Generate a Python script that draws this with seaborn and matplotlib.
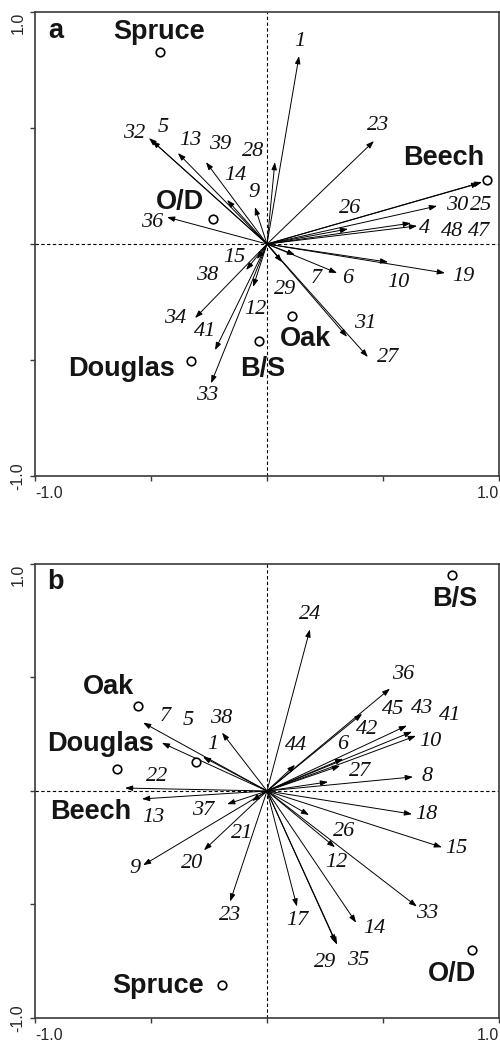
import matplotlib
matplotlib.use("Agg")
import matplotlib.pyplot as plt
import seaborn as sns
import pandas as pd

sns.set_style("ticks")
plt.rcParams["font.family"] = ["Liberation Sans", "DejaVu Sans"]

# ---------------- panel a: variable vectors ----------------
a_vars = ["1", "23", "25", "47", "30", "4", "48", "26", "19", "10", "6", "7",
          "29", "31", "27", "12", "33", "41", "34", "38", "15", "36", "32",
          "5", "13", "39", "28", "14", "9"]
a_x = [0.138, 0.461, 0.927, 0.915, 0.733, 0.647, 0.620, 0.349, 0.767, 0.522,
       0.302, 0.121, 0.065, 0.345, 0.435, -0.060, -0.241, -0.224, -0.310,
       -0.090, -0.043, -0.431, -0.509, -0.495, -0.384, -0.263, 0.034,
       -0.172, -0.052]
a_y = [0.810, 0.444, 0.267, 0.262, 0.164, 0.078, 0.090, 0.065, -0.125,
       -0.078, -0.125, -0.047, -0.078, -0.400, -0.487, -0.185, -0.600,
       -0.457, -0.319, -0.112, -0.065, 0.116, 0.457, 0.445, 0.392, 0.353,
       0.353, 0.190, 0.159]
# label anchor points for the vector numbers
a_lab_x = [0.142, 0.478, 0.922, 0.914, 0.819, 0.681, 0.797, 0.358, 0.845,
           0.565, 0.349, 0.211, 0.078, 0.422, 0.522, -0.052, -0.259, -0.267,
           -0.397, -0.259, -0.142, -0.496, -0.573, -0.448, -0.332, -0.203,
           -0.060, -0.138, -0.056]
a_lab_y = [0.871, 0.513, 0.164, 0.056, 0.164, 0.065, 0.056, 0.155, -0.142,
           -0.164, -0.147, -0.147, -0.198, -0.341, -0.491, -0.284, -0.651,
           -0.379, -0.319, -0.134, -0.060, 0.091, 0.478, 0.504, 0.448, 0.427,
           0.397, 0.297, 0.220]

a_species = ["Spruce", "O/D", "Beech", "Oak", "B/S", "Douglas"]
a_sp_x = [-0.461, -0.233, 0.948, 0.108, -0.034, -0.328]
a_sp_y = [0.828, 0.108, 0.276, -0.310, -0.418, -0.504]
a_sp_lab_x = [-0.466, -0.375, 0.763, 0.164, -0.017, -0.625]
a_sp_lab_y = [0.915, 0.180, 0.371, -0.410, -0.540, -0.540]

# ---------------- panel b: variable vectors ----------------
b_vars = ["24", "36", "45", "43", "41", "10", "42", "6", "44", "27", "8",
          "18", "15", "26", "12", "33", "14", "35", "29", "17", "23", "21",
          "20", "37", "9", "13", "22", "7", "5", "1", "38"]
b_x = [0.185, 0.530, 0.410, 0.603, 0.625, 0.642, 0.328, 0.315, 0.121, 0.263,
       0.629, 0.625, 0.754, 0.181, 0.293, 0.646, 0.384, 0.302, 0.296, 0.129,
       -0.159, -0.065, -0.272, -0.172, -0.534, -0.539, -0.612, -0.534,
       -0.453, -0.276, -0.194]
b_y = [0.712, 0.451, 0.340, 0.288, 0.261, 0.243, 0.142, 0.111, 0.115, 0.040,
       0.062, -0.102, -0.248, -0.106, -0.248, -0.509, -0.580, -0.677, -0.668,
       -0.509, -0.487, -0.044, -0.261, -0.058, -0.327, -0.035, 0.013, 0.301,
       0.212, 0.150, 0.257]
b_lab_x = [0.185, 0.586, 0.543, 0.668, 0.789, 0.703, 0.431, 0.328, 0.125,
           0.401, 0.690, 0.685, 0.815, 0.332, 0.297, 0.690, 0.461, 0.392,
           0.250, 0.129, -0.159, -0.108, -0.323, -0.276, -0.569, -0.491,
           -0.474, -0.440, -0.341, -0.233, -0.198]
b_lab_y = [0.779, 0.513, 0.358, 0.363, 0.332, 0.217, 0.270, 0.204, 0.199,
           0.084, 0.066, -0.102, -0.252, -0.177, -0.314, -0.540, -0.606,
           -0.748, -0.757, -0.571, -0.549, -0.186, -0.319, -0.084, -0.341,
           -0.119, 0.062, 0.327, 0.310, 0.204, 0.319]

b_species = ["B/S", "Oak", "Douglas", "Beech", "Spruce", "O/D"]
b_sp_x = [0.797, -0.556, -0.306, -0.647, -0.194, 0.884]
b_sp_y = [0.951, 0.376, 0.128, 0.097, -0.854, -0.699]
b_sp_lab_x = [0.810, -0.685, -0.716, -0.759, -0.470, 0.797]
b_sp_lab_y = [0.845, 0.460, 0.208, -0.093, -0.858, -0.805]

tick_vals = [-1.0, -0.5, 0.0, 0.5, 1.0]
tick_text = ["-1.0", "", "", "", "1.0"]

fig = plt.figure(figsize=(5.0, 10.46), dpi=100)
ax_a = fig.add_axes([0.070, 0.5449, 0.928, 0.4436])
ax_b = fig.add_axes([0.070, 0.0268, 0.928, 0.4340])

SPINE = "#3a3a3a"


def draw_panel(ax, letter, vars_, vx, vy, lx, ly, sp, spx, spy, splx, sply):
    ax.set_xlim(-1, 1)
    ax.set_ylim(-1, 1)
    ax.axhline(0, color="black", lw=0.8, ls=(0, (3.0, 2.2)), zorder=1)
    ax.axvline(0, color="black", lw=0.8, ls=(0, (3.0, 2.2)), zorder=1)

    for name, x, y, tx, ty in zip(vars_, vx, vy, lx, ly):
        ax.annotate("", xy=(x, y), xytext=(0, 0),
                    arrowprops=dict(arrowstyle="-|>,head_length=0.45,head_width=0.16",
                                    mutation_scale=10, lw=0.7, color="black",
                                    shrinkA=0, shrinkB=0),
                    zorder=2)
        ax.text(tx, ty, name, ha="center", va="center", fontsize=16,
                family=["Liberation Serif", "DejaVu Serif"], style="italic",
                color="#111111", zorder=3)

    pts = pd.DataFrame({"species": sp, "x": spx, "y": spy})
    sns.scatterplot(data=pts, x="x", y="y", ax=ax, s=38, marker="o",
                    facecolor="white", edgecolor="black", linewidth=1.2,
                    zorder=4, legend=False)
    for name, tx, ty in zip(sp, splx, sply):
        ax.text(tx, ty, name, ha="center", va="center", fontsize=19.5,
                fontweight="bold", color="#151515", zorder=5)

    ax.text(0.045, 0.96, letter, transform=ax.transAxes, ha="center",
            va="center", fontsize=19.5, fontweight="bold", color="#151515")

    ax.set_xlabel("")
    ax.set_ylabel("")
    ax.set_xticks(tick_vals)
    ax.set_yticks(tick_vals)
    ax.set_xticklabels(tick_text, fontsize=11.5)
    ax.set_yticklabels(tick_text, fontsize=11.5, rotation=90)
    ax.tick_params(direction="out", length=3.5, width=1.0, color=SPINE,
                   pad=3.5)
    xl = ax.get_xticklabels()
    xl[0].set_ha("left")
    xl[-1].set_ha("right")
    yl = ax.get_yticklabels()
    yl[0].set_va("center")
    yl[-1].set_va("top")
    for s in ax.spines.values():
        s.set_color(SPINE)
        s.set_linewidth(1.2)
        s.set_visible(True)


draw_panel(ax_a, "a", a_vars, a_x, a_y, a_lab_x, a_lab_y,
           a_species, a_sp_x, a_sp_y, a_sp_lab_x, a_sp_lab_y)
draw_panel(ax_b, "b", b_vars, b_x, b_y, b_lab_x, b_lab_y,
           b_species, b_sp_x, b_sp_y, b_sp_lab_x, b_sp_lab_y)

fig.savefig("out.png", dpi=100)
